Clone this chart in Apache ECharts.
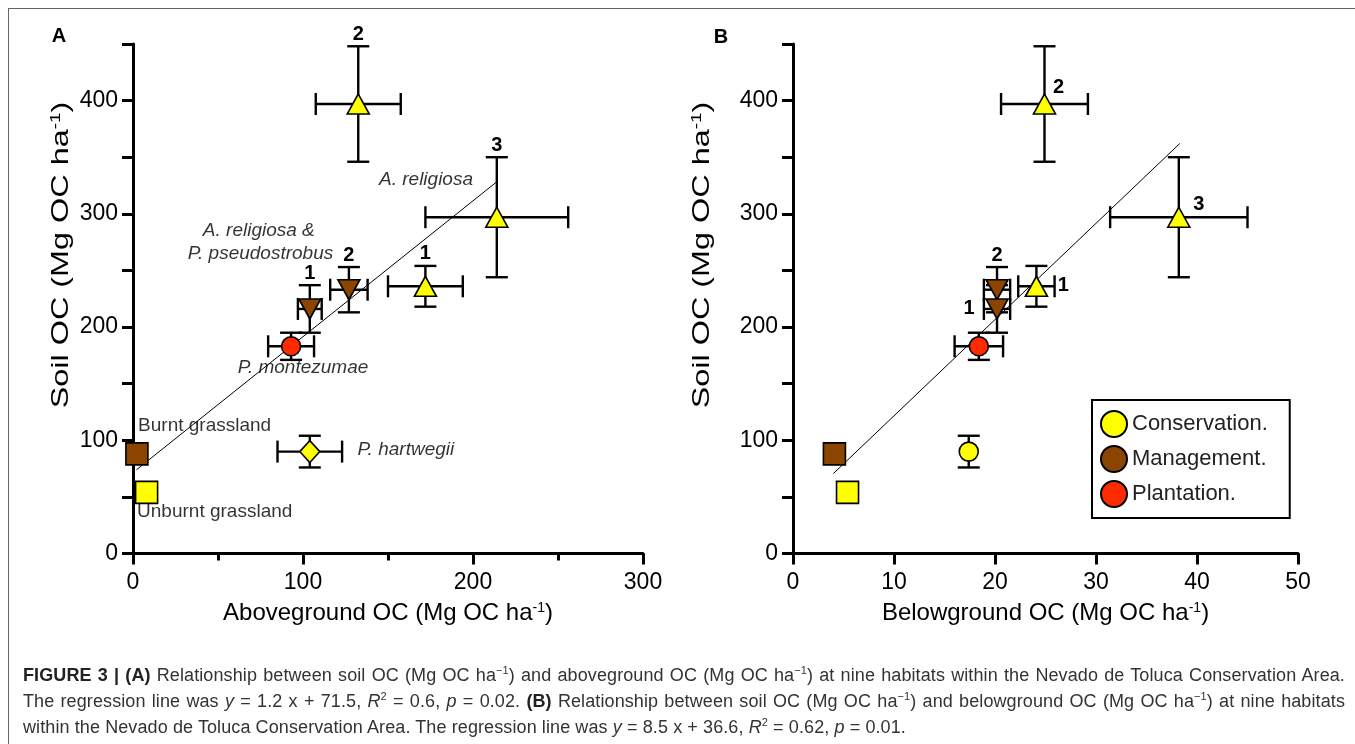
<!DOCTYPE html>
<html>
<head>
<meta charset="utf-8">
<script src="https://cdn.jsdelivr.net/npm/echarts@6/dist/echarts.min.js"></script>
<style>
  html, body { margin: 0; padding: 0; background: #fff; }
  #wrap { position: relative; width: 1355px; height: 744px; overflow: hidden; }
  #chart { position: absolute; left: 0; top: 0; width: 1355px; height: 744px; }
  #frame { position: absolute; left: 8px; top: 8px; right: -4px; bottom: -4px;
    border-left: 1.5px solid #666; border-top: 1.5px solid #666; pointer-events: none; }
  #caption { position: absolute; left: 23px; top: 662px; width: 1322px;
    font-family: "Liberation Sans", Arial, sans-serif; font-size: 18px; letter-spacing: 0.1px;
    line-height: 26px; color: #333; }
  #caption div { white-space: nowrap; }
  #caption .j { text-align: justify; text-align-last: justify; }
  #caption b { color: #222; }
  .sup { font-size: 11px; vertical-align: 7px; line-height: 0; }
</style>
</head>
<body>
<div id="wrap">
  <div id="chart"></div>
  <div id="frame"></div>
  <div id="caption">
    <div class="j"><b>FIGURE 3 | (A)</b> Relationship between soil OC (Mg OC ha<span class="sup">−1</span>) and aboveground OC (Mg OC ha<span class="sup">−1</span>) at nine habitats within the Nevado de Toluca Conservation Area.</div>
    <div class="j">The regression line was <i>y</i> = 1.2 x + 71.5, <i>R</i><span class="sup">2</span> = 0.6, <i>p</i> = 0.02. <b>(B)</b> Relationship between soil OC (Mg OC ha<span class="sup">−1</span>) and belowground OC (Mg OC ha<span class="sup">−1</span>) at nine habitats</div>
    <div>within the Nevado de Toluca Conservation Area. The regression line was <i>y</i> = 8.5 x + 36.6, <i>R</i><span class="sup">2</span> = 0.62, <i>p</i> = 0.01.</div>
  </div>
</div>
<script>
// habitats, same order in both panels
const groupNames = ["Conservation.", "Management.", "Plantation."];
const habitatGroup = [0, 0, 0, 1, 1, 2, 1, 0, 0];
const habitatNumber = ["2", "3", "1", "2", "1", "", "", "", ""];
const soilOC = [397, 297, 236, 233, 216, 183, 88, 54, 90];
const soilErr = [51, 53, 18, 20, 21, 12, 0, 0, 14];
const aboveOC = [132.5, 214, 172, 127, 104, 93, 2.3, 8, 104];
const aboveErr = [25, 42, 22, 11, 7, 13.5, 0, 0, 19];
const belowOC = [24.9, 38.2, 24.1, 20.2, 20.2, 18.4, 4.1, 5.4, 17.4];
const belowErr = [4.3, 6.8, 1.8, 1.3, 1.3, 2.4, 0, 0, 0];

// regression lines from the caption: [slope, intercept], drawn over [from, to]
const regressionA = [1.2, 71.5];
const regressionB = [8.5, 36.6];
const regressionRangeA = [2, 214];
const regressionRangeB = [4, 38.3];

// tick labels
const soilTicks = [0, 100, 200, 300, 400];
const aboveTicks = [0, 100, 200, 300];
const belowTicks = [0, 10, 20, 30, 40, 50];

// text notes in panel A (anchored in data units)
const noteText = ["A. religiosa", "A. religiosa &", "P. pseudostrobus", "P. montezumae", "P. hartwegii", "Burnt grassland", "Unburnt grassland"];
const noteX = [200, 74, 75, 100, 132, 3, 2.4];
const noteY = [330, 285, 265, 164, 91.4, 113, 36.6];

// styling
const FONT = '"Liberation Sans", Arial, Helvetica, sans-serif';
const groupColors = ["#ffff00", "#8b4500", "#ff2a00"];
const symbolsA = ["triangle", "triangle", "triangle", "triangle", "triangle", "circle", "rect", "rect", "diamond"];
const symbolsB = ["triangle", "triangle", "triangle", "triangle", "triangle", "circle", "rect", "rect", "circle"];
const symbolRotate = [0, 0, 0, 180, 180, 0, 0, 0, 0];
const symbolSizes = { triangle: [22, 20], circle: 19, rect: 22, diamond: [20, 22] };
const noteAlign = ["right", "center", "center", "center", "left", "left", "left"];
const noteItalic = [true, true, true, true, true, false, false];
// where the small number goes: "above" the top cap, or [dx, dy] from the marker
const numberPlaceA = ["above", "above", "above", "above", "above"];
const numberPlaceB = [[14, -17], [20, -13], [27, -1], "above", [-28, 0]];

const chart = echarts.init(document.getElementById("chart"));

function valueAxis(gridIndex, opts) {
  return Object.assign({
    type: "value",
    gridIndex: gridIndex,
    min: 0,
    splitLine: { show: false },
    axisLine: { show: true, onZero: false, lineStyle: { color: "#000", width: 3 } },
    axisTick: { show: true, length: 11, lineStyle: { color: "#000", width: 3 } },
    axisLabel: { show: true, color: "#000", fontSize: 23, fontFamily: FONT, margin: 18 },
    nameLocation: "middle",
    nameTextStyle: {
      color: "#000", fontSize: 24, fontFamily: FONT,
      rich: { sup: { fontSize: 14, fontFamily: FONT, color: "#000", verticalAlign: "top" } },
    },
  }, opts);
}

function soilAxis(gridIndex) {
  const ax = valueAxis(gridIndex, { max: 450, interval: 50 });
  ax.axisLabel.margin = 15;
  ax.axisLabel.interval = 0;
  ax.axisLabel.formatter = (v) => (soilTicks.includes(v) ? String(v) : "");
  return ax;
}

// the figure is squeezed sideways, so the upright y titles read long and thin
function soilTitle(x) {
  return {
    type: "text",
    x: x,
    y: 255,
    rotation: Math.PI / 2,
    scaleX: 1.35,
    style: {
      text: "Soil OC (Mg OC ha{sup|-1})",
      font: "24px " + FONT,
      fill: "#000",
      align: "center",
      verticalAlign: "middle",
      rich: { sup: { fontSize: 14, fontFamily: FONT, fill: "#000", verticalAlign: "top" } },
    },
  };
}

function regression(coef, range, panel) {
  return {
    type: "line",
    xAxisIndex: panel,
    yAxisIndex: panel,
    silent: true,
    symbol: "none",
    z: 1,
    lineStyle: { color: "#000", width: 1 },
    data: range.map((x) => [x, coef[0] * x + coef[1]]),
  };
}

function errorBars(xs, xerr, panel, numberPlace) {
  return {
    type: "custom",
    xAxisIndex: panel,
    yAxisIndex: panel,
    silent: true,
    z: 2,
    data: xs.map((x, i) => [x, soilOC[i], xerr[i], soilErr[i], i]),
    renderItem(params, api) {
      const x = api.value(0), y = api.value(1);
      const ex = api.value(2), ey = api.value(3), i = api.value(4);
      const ls = { stroke: "#000", lineWidth: 2.4 };
      const cap = 11;
      const kids = [];
      const c = api.coord([x, y]);
      let topY = c[1] - 10;
      if (ey > 0) {
        const t = api.coord([x, y + ey]);
        const b = api.coord([x, y - ey]);
        kids.push({ type: "line", shape: { x1: t[0], y1: t[1], x2: b[0], y2: b[1] }, style: ls });
        kids.push({ type: "line", shape: { x1: t[0] - cap, y1: t[1], x2: t[0] + cap, y2: t[1] }, style: ls });
        kids.push({ type: "line", shape: { x1: b[0] - cap, y1: b[1], x2: b[0] + cap, y2: b[1] }, style: ls });
        topY = t[1];
      }
      if (ex > 0) {
        const l = api.coord([x - ex, y]);
        const r = api.coord([x + ex, y]);
        kids.push({ type: "line", shape: { x1: l[0], y1: l[1], x2: r[0], y2: r[1] }, style: ls });
        kids.push({ type: "line", shape: { x1: l[0], y1: l[1] - cap, x2: l[0], y2: l[1] + cap }, style: ls });
        kids.push({ type: "line", shape: { x1: r[0], y1: r[1] - cap, x2: r[0], y2: r[1] + cap }, style: ls });
      }
      const txt = habitatNumber[i];
      if (txt) {
        const p = numberPlace[i];
        const tx = p === "above" ? c[0] : c[0] + p[0];
        const ty = p === "above" ? topY - 12 : c[1] + p[1];
        kids.push({
          type: "text",
          style: { text: txt, x: tx, y: ty, font: "bold 20px " + FONT, fill: "#000", align: "center", verticalAlign: "middle" },
        });
      }
      return { type: "group", children: kids };
    },
  };
}

function markers(xs, symbols, panel) {
  return groupNames.map((name, g) => ({
    type: "scatter",
    name: name,
    xAxisIndex: panel,
    yAxisIndex: panel,
    z: 3,
    clip: false,
    itemStyle: { color: groupColors[g], borderColor: "#000", borderWidth: 1.6, opacity: 1 },
    data: xs
      .map((x, i) => ({ i: i, x: x }))
      .filter((d) => habitatGroup[d.i] === g)
      .map((d) => ({
        value: [d.x, soilOC[d.i]],
        symbol: symbols[d.i],
        symbolRotate: symbolRotate[d.i],
        symbolSize: symbolSizes[symbols[d.i]],
      })),
  }));
}

const notes = {
  type: "scatter",
  xAxisIndex: 0,
  yAxisIndex: 0,
  silent: true,
  symbolSize: 0,
  z: 4,
  data: noteText.map((t, i) => ({
    value: [noteX[i], noteY[i]],
    label: {
      show: true,
      position: "inside",
      formatter: t,
      align: noteAlign[i],
      color: "#000",
      fontSize: 19,
      fontFamily: FONT,
      fontStyle: noteItalic[i] ? "italic" : "normal",
    },
  })),
};

const option = {
  animation: false,
  backgroundColor: "transparent",
  textStyle: { fontFamily: FONT },
  grid: [
    { left: 133, right: 712, top: 44, bottom: 190.5, outerBoundsMode: "none" },
    { left: 793, right: 57, top: 44, bottom: 190.5, outerBoundsMode: "none" },
  ],
  xAxis: [
    valueAxis(0, {
      max: 300,
      interval: 100,
      name: "Aboveground OC (Mg OC ha{sup|-1})",
      nameGap: 48,
      minorTick: { show: true, splitNumber: 2, length: 7, lineStyle: { color: "#000", width: 3 } },
    }),
    valueAxis(1, {
      max: 50,
      interval: 10,
      name: "Belowground OC (Mg OC ha{sup|-1})",
      nameGap: 48,
    }),
  ],
  yAxis: [soilAxis(0), soilAxis(1)],
  legend: {
    data: groupNames.map((n) => ({ name: n, icon: "circle" })),
    orient: "vertical",
    left: 1092,
    top: 400,
    padding: [10, 22, 10, 8],
    itemWidth: 26,
    itemHeight: 27,
    itemGap: 7,
    borderColor: "#000",
    borderWidth: 2,
    borderRadius: 0,
    selectedMode: false,
    textStyle: { color: "#222", fontSize: 22, fontFamily: FONT },
  },
  graphic: [
    { type: "text", x: 59, y: 36, style: { text: "A", font: "bold 20px " + FONT, fill: "#000", align: "center", verticalAlign: "middle" } },
    { type: "text", x: 721, y: 37, style: { text: "B", font: "bold 20px " + FONT, fill: "#000", align: "center", verticalAlign: "middle" } },
    soilTitle(61),
    soilTitle(702),
  ],
  series: [
    regression(regressionA, regressionRangeA, 0),
    errorBars(aboveOC, aboveErr, 0, numberPlaceA),
    ...markers(aboveOC, symbolsA, 0),
    notes,
    regression(regressionB, regressionRangeB, 1),
    errorBars(belowOC, belowErr, 1, numberPlaceB),
    ...markers(belowOC, symbolsB, 1),
  ],
};

chart.setOption(option);
</script>
</body>
</html>
